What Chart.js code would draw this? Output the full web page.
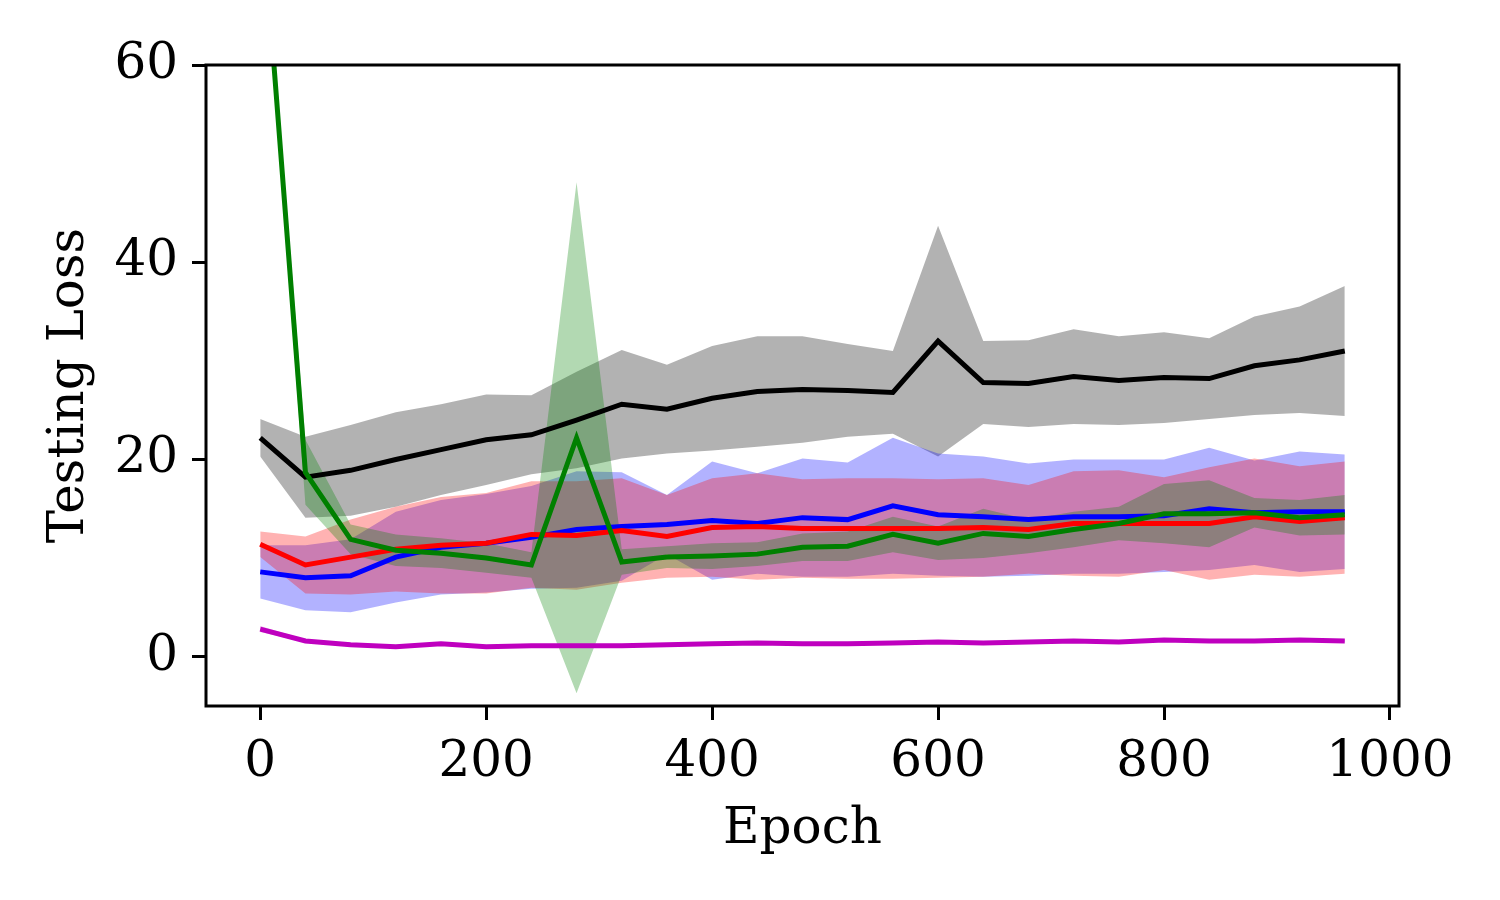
<!DOCTYPE html>
<html>
<head>
<meta charset="utf-8">
<script src="https://cdn.jsdelivr.net/npm/chart.js@4.4.1/dist/chart.umd.min.js"></script>
<style>
html, body { margin: 0; padding: 0; background: #fff; }
</style>
</head>
<body>
<canvas id="lossChart" width="1500" height="900"></canvas>
<script>
// Epochs on the x axis
const epochs = [0, 40, 80, 120, 160, 200, 240, 280, 320, 360, 400, 440, 480, 520, 560, 600, 640, 680, 720, 760, 800, 840, 880, 920, 960];
const xTicks = [0, 200, 400, 600, 800, 1000];
const yTicks = [0, 20, 40, 60];

// Mean testing loss and spread (std) per run
const blackMean = [22.2, 18.2, 18.9, 20.0, 21.0, 22.0, 22.5, 24.0, 25.6, 25.1, 26.2, 26.9, 27.1, 27.0, 26.8, 32.0, 27.8, 27.7, 28.4, 28.0, 28.3, 28.2, 29.5, 30.1, 31.0];
const blackStd = [1.9, 4.1, 4.6, 4.8, 4.6, 4.6, 4.0, 4.9, 5.5, 4.5, 5.3, 5.6, 5.4, 4.7, 4.2, 11.7, 4.2, 4.4, 4.8, 4.5, 4.6, 4.1, 5.0, 5.4, 6.6];

const blueMean = [8.6, 8.0, 8.2, 10.1, 11.1, 11.5, 12.1, 12.9, 13.2, 13.4, 13.8, 13.5, 14.1, 13.9, 15.3, 14.4, 14.2, 13.9, 14.2, 14.2, 14.3, 15.0, 14.6, 14.7, 14.7];
const blueStd = [2.7, 3.3, 3.7, 4.6, 4.8, 5.0, 5.2, 5.9, 5.5, 3.0, 6.0, 5.1, 6.0, 5.8, 6.9, 6.2, 6.1, 5.7, 5.8, 5.8, 5.7, 6.2, 5.3, 6.1, 5.8];

const redMean = [11.4, 9.3, 10.1, 10.9, 11.3, 11.5, 12.4, 12.3, 12.8, 12.2, 13.1, 13.2, 13.0, 13.0, 13.0, 13.0, 13.1, 12.9, 13.5, 13.5, 13.5, 13.5, 14.2, 13.7, 14.1];
const redStd = [1.3, 2.9, 3.8, 4.3, 4.9, 5.1, 5.4, 5.5, 5.3, 4.2, 5.0, 5.4, 5.0, 5.1, 5.1, 5.0, 5.0, 4.5, 5.3, 5.4, 4.7, 5.7, 5.9, 5.6, 5.7];

const greenMean = [78.0, 18.7, 11.9, 10.8, 10.5, 10.0, 9.3, 22.2, 9.6, 10.1, 10.2, 10.4, 11.1, 11.2, 12.4, 11.5, 12.5, 12.2, 12.9, 13.5, 14.5, 14.5, 14.6, 14.1, 14.4];
const greenStd = [1.0, 3.3, 1.5, 1.6, 1.5, 1.5, 1.3, 25.9, 1.3, 1.1, 1.3, 1.2, 1.4, 1.5, 1.8, 1.7, 2.5, 1.7, 1.8, 1.7, 3.0, 3.4, 1.5, 1.8, 2.0];

const magentaMean = [2.8, 1.6, 1.2, 1.0, 1.3, 1.0, 1.1, 1.1, 1.1, 1.2, 1.3, 1.4, 1.3, 1.3, 1.4, 1.5, 1.4, 1.5, 1.6, 1.5, 1.7, 1.6, 1.6, 1.7, 1.6];
const magentaStd = [0.3, 0.15, 0.1, 0.1, 0.1, 0.1, 0.1, 0.1, 0.1, 0.1, 0.1, 0.1, 0.1, 0.1, 0.1, 0.1, 0.1, 0.1, 0.1, 0.1, 0.1, 0.1, 0.1, 0.1, 0.1];

const series = [
    { mean: blackMean, std: blackStd, line: '#000000', band: 'rgba(0, 0, 0, 0.3)' },
    { mean: blueMean, std: blueStd, line: '#0000ff', band: 'rgba(0, 0, 255, 0.3)' },
    { mean: redMean, std: redStd, line: '#ff0000', band: 'rgba(255, 0, 0, 0.3)' },
    { mean: greenMean, std: greenStd, line: '#008000', band: 'rgba(0, 128, 0, 0.3)' },
    { mean: magentaMean, std: magentaStd, line: '#bf00bf', band: 'rgba(191, 0, 191, 0.3)' }
];

// upper band (filled down to the next dataset), lower band, then the mean line
const datasets = [];
series.forEach((s, k) => {
    const order = series.length - k; // first series ends up underneath
    datasets.push({
        data: epochs.map((e, i) => ({ x: e, y: s.mean[i] + s.std[i] })),
        fill: '+1', backgroundColor: s.band,
        borderColor: 'rgba(0,0,0,0)', borderWidth: 0, pointRadius: 0, order
    });
    datasets.push({
        data: epochs.map((e, i) => ({ x: e, y: s.mean[i] - s.std[i] })),
        fill: false, borderColor: 'rgba(0,0,0,0)', borderWidth: 0, pointRadius: 0, order
    });
    datasets.push({
        data: epochs.map((e, i) => ({ x: e, y: s.mean[i] })),
        fill: false, borderColor: s.line, borderWidth: 5, pointRadius: 0, order
    });
});

// box around the plot area, like the matplotlib spines
const frame = {
    id: 'frame',
    afterDraw(chart) {
        const { ctx, chartArea: a } = chart;
        ctx.save();
        ctx.strokeStyle = '#000';
        ctx.lineWidth = 3;
        ctx.strokeRect(a.left, a.top, a.right - a.left, a.bottom - a.top);
        ctx.restore();
    }
};

const font = { family: '"DejaVu Serif", serif', size: 50 };

const axisCommon = {
    type: 'linear',
    border: { display: false },
    grid: { drawOnChartArea: false, drawTicks: true, tickLength: 14, tickWidth: 3, tickColor: '#000' },
};

new Chart(document.getElementById('lossChart').getContext('2d'), {
    type: 'line',
    data: { datasets },
    plugins: [frame],
    options: {
        responsive: false,
        animation: false,
        devicePixelRatio: 1,
        elements: { line: { tension: 0 } },
        layout: { padding: { left: 40, right: 101, top: 65, bottom: 40 } },
        plugins: {
            legend: { display: false },
            tooltip: { enabled: false },
            filler: { drawTime: 'beforeDatasetsDraw' }
        },
        scales: {
            x: {
                ...axisCommon,
                min: -48,
                max: 1008,
                afterBuildTicks: s => { s.ticks = xTicks.map(v => ({ value: v })); },
                afterFit: s => { s.height = 154; },
                ticks: { font, color: '#000', padding: 13, maxRotation: 0, callback: v => String(v) },
                title: { display: true, text: 'Epoch', font, color: '#000', padding: 0 }
            },
            y: {
                ...axisCommon,
                min: -5,
                max: 60,
                afterBuildTicks: s => { s.ticks = yTicks.map(v => ({ value: v })); },
                afterFit: s => { s.width = 166; },
                ticks: { font, color: '#000', padding: 14, callback: v => String(v) },
                title: { display: true, text: 'Testing Loss', font, color: '#000', padding: 0 }
            }
        }
    }
});
</script>
</body>
</html>
